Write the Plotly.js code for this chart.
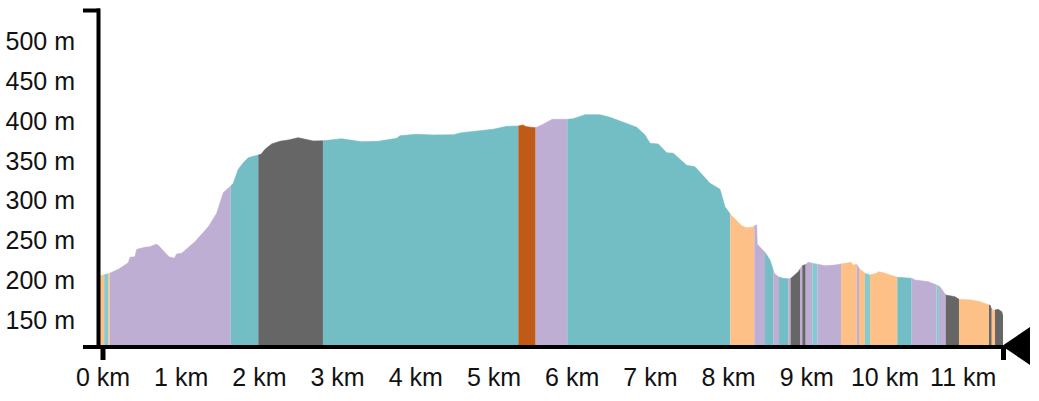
<!DOCTYPE html>
<html>
<head>
<meta charset="utf-8">
<script src="https://cdn.plot.ly/plotly-3.0.1.min.js"></script>
<style>html,body{margin:0;padding:0;background:#fff;}#chart{width:1039px;height:401px;}</style>
</head>
<body>
<div id="chart"></div>
<script>
// Elevation profile: distance (km) and elevation (m)
const distKm = [-0.038, 0.086, 0.196, 0.324, 0.345, 0.409, 0.431, 0.537, 0.601, 0.674, 0.707, 0.771, 0.844, 0.912, 0.942, 1.006, 1.176, 1.347, 1.454, 1.538, 1.624, 1.666, 1.730, 1.794, 1.858, 1.986, 2.020, 2.072, 2.157, 2.263, 2.370, 2.497, 2.583, 2.689, 2.813, 2.945, 3.052, 3.180, 3.308, 3.520, 3.670, 3.756, 3.798, 4.011, 4.224, 4.480, 4.587, 4.779, 4.991, 5.162, 5.311, 5.367, 5.418, 5.533, 5.610, 5.746, 5.937, 6.014, 6.164, 6.355, 6.483, 6.654, 6.825, 6.931, 6.995, 7.101, 7.208, 7.293, 7.464, 7.570, 7.762, 7.890, 7.954, 8.022, 8.082, 8.167, 8.231, 8.316, 8.329, 8.359, 8.367, 8.423, 8.465, 8.529, 8.584, 8.635, 8.699, 8.785, 8.849, 8.891, 8.942, 8.977, 9.019, 9.070, 9.147, 9.233, 9.361, 9.437, 9.531, 9.565, 9.595, 9.638, 9.668, 9.744, 9.808, 9.894, 9.914, 9.978, 10.064, 10.157, 10.341, 10.384, 10.554, 10.661, 10.703, 10.776, 10.895, 10.946, 11.109, 11.215, 11.321, 11.343, 11.365, 11.407, 11.449, 11.493, 11.513];
const elevM = [205.3, 208.7, 213.7, 222, 228.8, 229.5, 238.8, 241.4, 242.1, 245.1, 243.9, 237.1, 229.5, 227.5, 232.9, 233.8, 248.4, 267.2, 284.1, 310, 317.5, 321.8, 339.4, 347.7, 353.9, 357.4, 358.2, 364.5, 371.2, 374.6, 376.2, 379.1, 377.1, 375, 375.2, 377.1, 377.8, 375.8, 374.1, 374.6, 377.1, 378.3, 381.6, 383.4, 382.5, 382.9, 385.4, 387.1, 389.7, 393.4, 393.8, 395.1, 392.9, 391.7, 395.1, 402.2, 402.2, 403, 408, 408, 404.7, 398, 392.2, 382.5, 372.1, 371.2, 360.3, 359.5, 344.4, 342.7, 321.8, 314.3, 292.4, 282.8, 276.9, 268.5, 266, 266.9, 268.5, 269.4, 245.1, 240.1, 235.1, 225.4, 208.7, 204.4, 202.4, 201.5, 206.5, 210.7, 218.2, 219.1, 222.5, 221.3, 220, 218.2, 219.1, 220.4, 221.3, 222.5, 219.1, 220, 215, 208.7, 206.6, 208.7, 210.7, 209.4, 206.6, 203.7, 202.4, 200.3, 198.1, 194, 191.8, 181.4, 179.3, 176, 175.1, 173, 168.8, 168.8, 162.6, 162.6, 163.4, 160.4, 154.2];

// Segment boundaries (km) and segment categories
const segBounds = [-0.038, 0.016, 0.067, 0.086, 1.633, 1.986, 2.813, 5.311, 5.533, 5.937, 8.022, 8.329, 8.465, 8.571, 8.644, 8.763, 8.793, 8.913, 8.942, 8.986, 9.070, 9.134, 9.437, 9.638, 9.668, 9.744, 9.808, 10.157, 10.341, 10.661, 10.690, 10.776, 10.946, 11.330, 11.365, 11.407, 11.513];
const segType = ['C','F','C','A','B','D','B','E','A','B','C','A','B','A','B','A','D','A','D','A','F','A','C','A','C','F','C','B','A','F','A','D','C','D','C','D'];

// Tick labels
const xTickVals = [0,1,2,3,4,5,6,7,8,9,10,11];
const xTickText = xTickVals.map(v => v + ' km');
const yTickVals = [150,200,250,300,350,400,450,500];
const yTickText = yTickVals.map(v => v + ' m');

const typeColor = {A:'#beaed4', B:'#73bdc4', C:'#fdc086', D:'#666666', E:'#bf5b17', F:'#86cad1'};

function elevAt(x){
  if (x <= distKm[0]) return elevM[0];
  for (let i = 1; i < distKm.length; i++){
    if (x <= distKm[i]){
      const t = (x - distKm[i-1]) / (distKm[i] - distKm[i-1]);
      return elevM[i-1] + t * (elevM[i] - elevM[i-1]);
    }
  }
  return elevM[elevM.length-1];
}

const traces = [];
for (let s = 0; s < segType.length; s++){
  const a = segBounds[s], b = segBounds[s+1];
  const xs = [a], ys = [elevAt(a)];
  for (let i = 0; i < distKm.length; i++){
    if (distKm[i] > a && distKm[i] < b){ xs.push(distKm[i]); ys.push(elevM[i]); }
  }
  xs.push(b); ys.push(elevAt(b));
  const c = typeColor[segType[s]];
  traces.push({type:'scatter', mode:'lines', x:xs, y:ys, fill:'tozeroy', fillcolor:c,
    line:{color:c, width:0.6}, hoverinfo:'skip', showlegend:false});
}

// plot area in pixels
const L = 100, R = 1003, T = 10, B = 347;
const px = v => (v - L) / (R - L);
const py = v => (B - v) / (B - T);

const blk = '#000';
const shapes = [
  {type:'line', xref:'paper', yref:'paper', x0:px(98.5), x1:px(98.5), y0:py(349), y1:py(8.5), line:{color:blk, width:4}},
  {type:'line', xref:'paper', yref:'paper', x0:px(83), x1:px(100), y0:py(10.5), y1:py(10.5), line:{color:blk, width:4}},
  {type:'line', xref:'paper', yref:'paper', x0:px(83), x1:px(100), y0:py(347), y1:py(347), line:{color:blk, width:4}},
  {type:'line', xref:'paper', yref:'paper', x0:px(96.5), x1:px(1003), y0:py(347), y1:py(347), line:{color:blk, width:4}},
  {type:'line', xref:'paper', yref:'paper', x0:px(103), x1:px(103), y0:py(347), y1:py(360), line:{color:blk, width:5}},
  {type:'line', xref:'paper', yref:'paper', x0:px(1003.5), x1:px(1003.5), y0:py(347), y1:py(360), line:{color:blk, width:5}},
  {type:'path', xref:'paper', yref:'paper',
   path:'M '+px(1002)+','+py(346)+' L '+px(1030)+','+py(327)+' L '+px(1030)+','+py(365)+' Z',
   fillcolor:blk, line:{color:blk, width:0}}
];

const font = {family:'Arial, "Liberation Sans", sans-serif', size:25, color:'#111'};
const layout = {
  width:1039, height:401,
  margin:{l:L, r:1039-R, t:T, b:401-B, pad:0},
  paper_bgcolor:'#fff', plot_bgcolor:'#fff',
  font:font,
  showlegend:false,
  xaxis:{range:[-0.038, 11.509], showgrid:false, zeroline:false, showline:false,
    tickmode:'array', tickvals:xTickVals, ticktext:xTickText, ticks:'', ticklabelstandoff:13,
    tickfont:font, fixedrange:true},
  yaxis:{range:[116.1, 539.6], showgrid:false, zeroline:false, showline:false,
    tickmode:'array', tickvals:yTickVals, ticktext:yTickText, ticks:'', ticklabelstandoff:24,
    tickfont:font, fixedrange:true},
  shapes:shapes
};

Plotly.newPlot('chart', traces, layout, {displayModeBar:false, staticPlot:true});
</script>
</body>
</html>
